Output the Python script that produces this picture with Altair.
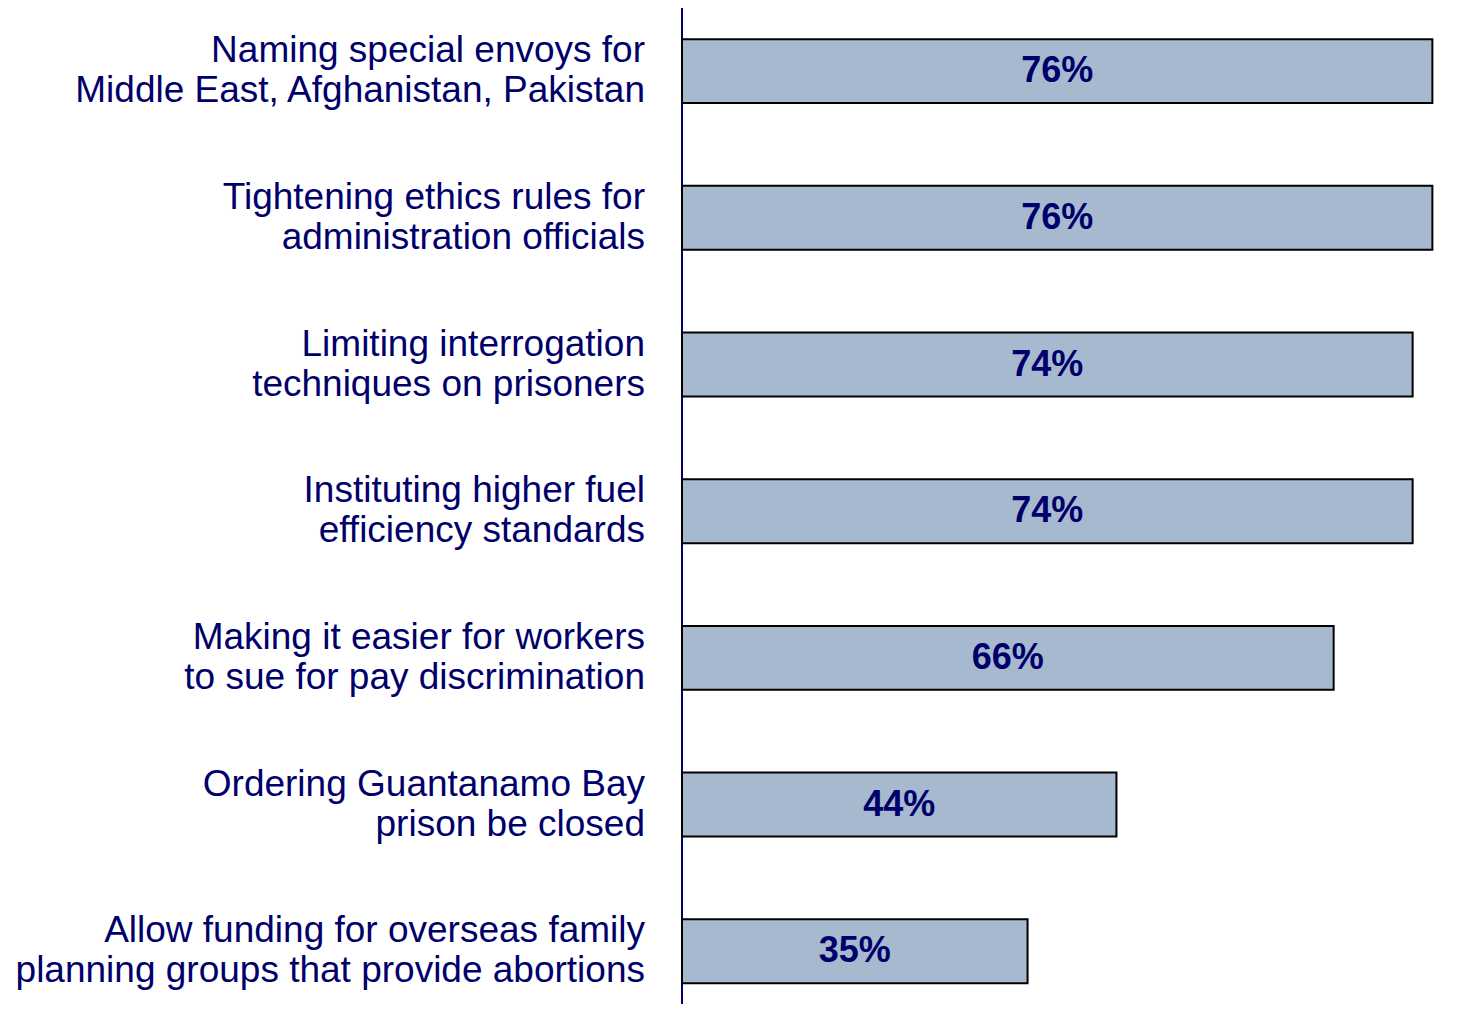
import altair as alt
import pandas as pd

categories = [
    "Naming special envoys for\nMiddle East, Afghanistan, Pakistan",
    "Tightening ethics rules for\nadministration officials",
    "Limiting interrogation\ntechniques on prisoners",
    "Instituting higher fuel\nefficiency standards",
    "Making it easier for workers\nto sue for pay discrimination",
    "Ordering Guantanamo Bay\nprison be closed",
    "Allow funding for overseas family\nplanning groups that provide abortions",
]
values = [76, 76, 74, 74, 66, 44, 35]

df = pd.DataFrame({"cat": categories, "val": values})
df["label"] = df["val"].astype(str) + "%"
df["mid"] = df["val"] / 2

NAVY = "#00006B"
FILL = "#A7B9CF"
FONT = "Liberation Sans"

y_enc = alt.Y(
    "cat:N",
    sort=categories,
    scale=alt.Scale(paddingInner=0.564, paddingOuter=0.177, align=0.6),
    axis=None,
)
x_scale = alt.Scale(domain=[0, 79], nice=False)

base = alt.Chart(df)

axis_line = alt.Chart(df).mark_rule(color=NAVY, strokeWidth=2).encode(
    x=alt.value(0), y=alt.value(0), y2=alt.value(1004)
)

bars = base.mark_bar(color=FILL, stroke="black", strokeWidth=2).encode(
    y=y_enc,
    x=alt.X("val:Q", scale=x_scale, axis=None),
)

vals = base.mark_text(
    font=FONT, fontSize=36, fontWeight="bold", color=NAVY,
    align="center", baseline="middle",
).encode(
    y=alt.Y("cat:N", sort=categories),
    x=alt.X("mid:Q", scale=x_scale, axis=None),
    text="label:N",
)

cats = base.mark_text(
    font=FONT, fontSize=37, color=NAVY, align="right", baseline="middle",
    lineBreak="\n", lineHeight=40, dx=-37, dy=-20,
).encode(
    y=alt.Y("cat:N", sort=categories),
    x=alt.value(0),
    text="cat:N",
)

chart = (
    alt.layer(axis_line, bars, vals, cats)
    .properties(
        width=780,
        height=996,
        autosize=alt.AutoSizeParams(type="none"),
        padding={"left": 674, "top": 0, "right": 0, "bottom": 0},
        view=alt.ViewBackground(stroke="#ffffff", strokeWidth=0),
    )
    .configure_view(stroke="#ffffff", strokeWidth=0)
    .configure(background="white")
)

chart.save("out.html", embed_options={"renderer": "svg", "actions": False})
